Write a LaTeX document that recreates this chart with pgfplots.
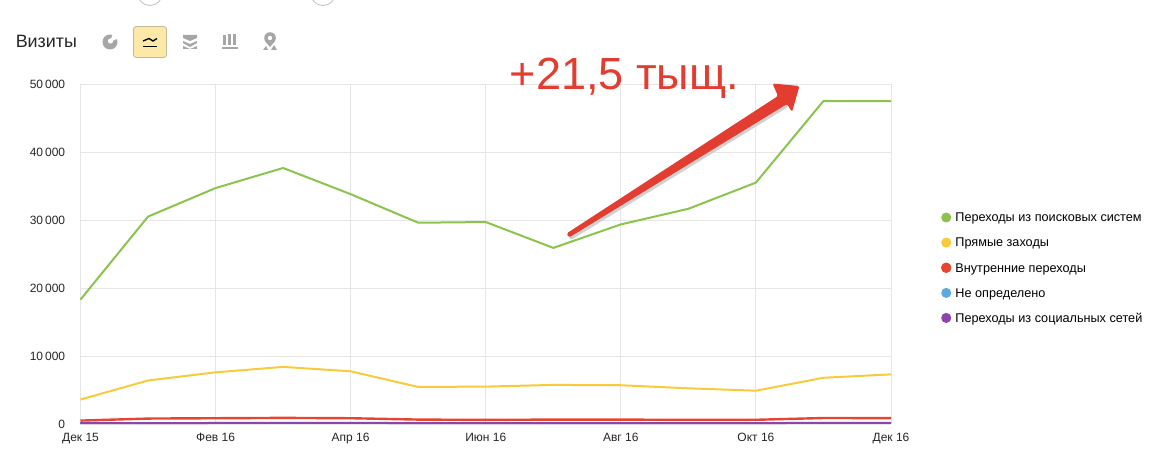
\documentclass[border=0pt]{standalone}
\usepackage{pgfplots}
\pgfplotsset{compat=1.18}
\usepackage{fontspec}
\setmainfont{Liberation Sans}
\definecolor{cgreen}{HTML}{8BC34F}
\definecolor{cyellow}{HTML}{F9CB3C}
\definecolor{cred}{HTML}{E8452F}
\definecolor{cblue}{HTML}{5DA9E0}
\definecolor{cpurple}{HTML}{8E44AD}
\definecolor{cgrid}{HTML}{E6E6E6}
\definecolor{cicon}{HTML}{A6A6A6}
\definecolor{carrow}{HTML}{E23D30}
\pgfplotsset{legdot/.style={legend image code/.code={\fill[#1] (0pt,0pt) circle (3pt);}}}
\pgfplotstableread{
m green yellow red blue purple
0 18300 3600 500 120 120
1 30500 6400 800 120 130
2 34700 7600 850 120 150
3 37650 8400 900 120 170
4 33800 7750 850 120 170
5 29600 5450 650 120 130
6 29700 5500 600 120 120
7 25900 5750 650 120 120
8 29350 5700 650 120 120
9 31650 5250 600 120 120
10 35500 4900 620 120 130
11 47500 6800 880 120 170
12 47500 7300 870 120 170
}\datatable
\begin{document}
\begin{tikzpicture}[font=\fontsize{9pt}{11pt}\selectfont]
\path[use as bounding box] (0,0) rectangle (864.75pt,338.25pt);
\begin{axis}[
  at={(60.375pt,20.25pt)}, anchor=south west,
  scale only axis, width=607.875pt, height=255pt,
  xmin=0, xmax=12, ymin=0, ymax=50000, clip=false,
  scaled y ticks=false,
  xtick={0,2,...,12}, xticklabels={Дек 15,Фев 16,Апр 16,Июн 16,Авг 16,Окт 16,Дек 16},
  ytick={0,10000,...,50000}, yticklabels={0,10\,000,20\,000,30\,000,40\,000,50\,000},
  grid=major, major grid style={cgrid,line width=.75pt},
  axis line style={cgrid,line width=.75pt}, tick style={draw=none},
  axis x line*=bottom, axis y line*=left,
  axis line style={-},
  xticklabel style={yshift=-3.5pt,text=black!85},
  yticklabel style={xshift=-8pt,text=black!85},
  every axis plot/.append style={line width=1.5pt,no markers,line join=round},
  legend cell align=left,
  legend style={draw=none,fill=none,at={(645.4pt,158.6pt)},anchor=north west,
    row sep=11.25pt,inner sep=0pt,outer sep=0pt,
    nodes={inner sep=0pt,text depth=0pt,font=\fontsize{9.5pt}{9.5pt}\selectfont},
    /tikz/column 1/.style={column sep=3pt},
    legend columns=1},
  legend plot pos=left,
]
\addplot[cgreen,legdot=cgreen] table[x=m,y=green]{\datatable};
\addlegendentry{Переходы из поисковых систем}
\addplot[cyellow,legdot=cyellow] table[x=m,y=yellow]{\datatable};
\addlegendentry{Прямые заходы}
\addplot[cred,legdot=cred,line width=1.8pt] table[x=m,y=red]{\datatable};
\addlegendentry{Внутренние переходы}
\addplot[cblue,legdot=cblue] table[x=m,y=blue]{\datatable};
\addlegendentry{Не определено}
\addplot[cpurple,legdot=cpurple] table[x=m,y=purple]{\datatable};
\addlegendentry{Переходы из социальных сетей}
\end{axis}
\begin{scope}[shift={(0pt,338.25pt)},x=.75pt,y=-.75pt]
  \clip (0,0) rectangle (1153,451);
  % partial circles at top
  \draw[black!25,line width=.6pt] (150,-7) circle (12.5);
  \draw[black!25,line width=.6pt] (323,-7) circle (12.5);
  % title
  \node[anchor=west,inner sep=0pt,font=\fontsize{13.4pt}{15pt}\selectfont,text=black!85] at (15.5,41) {Визиты};
  % pie icon
  \fill[cicon] (110,42) circle (7.5);
  \fill[white] (110.5,41) circle (2.6);
  \fill[white] (110,42) -- (113,33) -- (119,38) -- cycle;
  % active line icon
  \draw[fill=cyellow!45!white,draw=cyellow!50!black!45!white,line width=.6pt,rounded corners=2pt] (133.5,26.5) rectangle (166.5,57.5);
  \draw[black,line width=1pt] (143,41) -- (149,38.5) -- (153,41) -- (157,38.5);
  \draw[black,line width=1pt] (143,46.5) -- (157,46.5);
  % stacked icon
  \fill[cicon] (183,35) -- (197,35) -- (197,38) -- (190,41) -- (183,38) -- cycle;
  \fill[cicon] (183,41) -- (190,44) -- (197,41) -- (197,43) -- (190,47) -- (183,43) -- cycle;
  \fill[cicon] (183,46) -- (190,49) -- (197,46) -- (197,49) -- (183,49) -- cycle;
  % bars icon
  \fill[cicon] (223,35) rectangle (226,45);
  \fill[cicon] (228,34) rectangle (231,45);
  \fill[cicon] (233,34) rectangle (236,45);
  \draw[cicon,line width=1.4pt] (222,48) -- (238,48);
  % pin icon
  \fill[cicon] (270,38) circle (5.8);
  \fill[cicon] (265,41) -- (275,41) -- (270,47) -- cycle;
  \fill[white] (270,38) circle (2.2);
  \fill[cicon] (263,50) -- (266,46) -- (268,50) -- cycle;
  \fill[cicon] (271,50) -- (274,45) -- (277,50) -- cycle;
  % annotation
  \node[anchor=west,inner sep=0pt,font=\fontsize{33.8pt}{38pt}\selectfont,text=carrow] at (509.5,78) {+21,5 тыщ.};
  \fill[black!18,rounded corners=1pt,shift={(1,3)}] (567,233) -- (779,95) -- (787,104) -- (570,237) -- cycle;
  \fill[carrow,rounded corners=1.2pt] (566.5,233.5) -- (778,96) -- (772.5,83.5) -- (799.5,86) -- (792,112) -- (787,104) -- (569,237.5) -- cycle;
\end{scope}
\end{tikzpicture}
\end{document}
